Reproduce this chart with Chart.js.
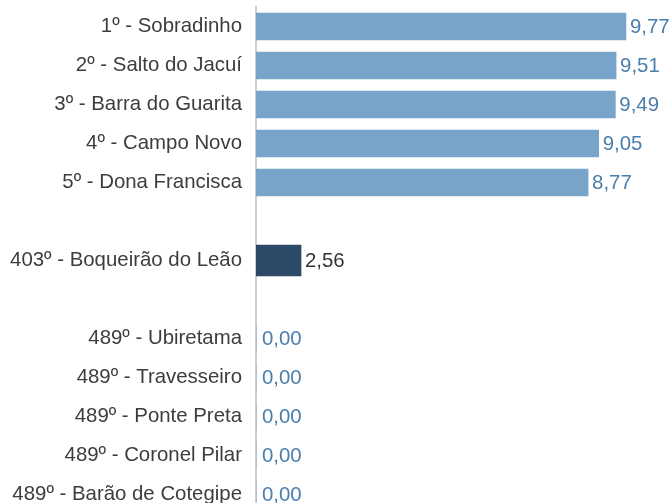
<!DOCTYPE html>
<html>
<head>
<meta charset="utf-8">
<script src="https://cdn.jsdelivr.net/npm/chart.js@4/dist/chart.umd.min.js"></script>
<style>
  html, body { margin: 0; padding: 0; background: #ffffff; overflow: hidden; }
  #wrap { position: relative; width: 671px; height: 516px; }
</style>
</head>
<body>
<div id="wrap"><canvas id="chart"></canvas></div>
<script>
// Ranking: top five municipalities
const topNames = ['1º - Sobradinho', '2º - Salto do Jacuí', '3º - Barra do Guarita', '4º - Campo Novo', '5º - Dona Francisca'];
const topValues = [9.77, 9.51, 9.49, 9.05, 8.77];

// Highlighted municipality
const focusNames = ['403º - Boqueirão do Leão'];
const focusValues = [2.56];

// Bottom of the ranking
const bottomNames = ['489º - Ubiretama', '489º - Travesseiro', '489º - Ponte Preta', '489º - Coronel Pilar', '489º - Barão de Cotegipe'];
const bottomValues = [0.00, 0.00, 0.00, 0.00, 0.00];

// Category axis with empty rows separating the three groups
const labels = [...topNames, '', ...focusNames, '', ...bottomNames];
const nulls = n => Array(n).fill(null);
const rankData = [...topValues, null, ...nulls(focusNames.length), null, ...bottomValues];
const focusData = [...nulls(topNames.length), null, ...focusValues, null, ...nulls(bottomNames.length)];

const fmt = v => v.toFixed(2).replace('.', ',');
const FONT = '"Liberation Sans", Arial, sans-serif';
const FONT_SIZE = 20.4;

// Writes each bar's value just past its end
const valueLabels = {
  id: 'valueLabels',
  afterDatasetsDraw(chart) {
    const ctx = chart.ctx;
    ctx.save();
    ctx.font = FONT_SIZE + 'px ' + FONT;
    ctx.textBaseline = 'middle';
    ctx.textAlign = 'left';
    chart.data.datasets.forEach((ds, i) => {
      const meta = chart.getDatasetMeta(i);
      meta.data.forEach((bar, j) => {
        const v = ds.data[j];
        if (v === null || v === undefined) return;
        ctx.fillStyle = ds.labelColor;
        const gap = v === 0 ? 6 : 4;
        ctx.fillText(fmt(v), bar.x + gap, bar.y + 1);
      });
    });
    ctx.restore();
  }
};

new Chart(document.getElementById('chart'), {
  type: 'bar',
  data: {
    labels: labels,
    datasets: [
      {
        data: rankData,
        backgroundColor: '#77a4c8',
        barThickness: 27,
        grouped: false,
        xAxisID: 'x',
        labelColor: '#4a7eab'
      },
      {
        data: focusData,
        backgroundColor: '#2c4a68',
        barThickness: 31,
        grouped: false,
        xAxisID: 'x2',
        labelColor: '#333333'
      }
    ]
  },
  options: {
    indexAxis: 'y',
    responsive: true,
    maintainAspectRatio: false,
    animation: false,
    layout: { padding: { top: 7, bottom: 2, left: 0, right: 0 } },
    plugins: {
      legend: { display: false },
      tooltip: { enabled: false }
    },
    scales: {
      x: { display: false, min: 0, max: 10.96 },
      x2: { display: false, min: 0, max: 23.6 },
      y: {
        offset: true,
        grid: { display: false, drawTicks: false },
        border: { display: true, color: '#cfcfcf', width: 2 },
        ticks: {
          padding: 14,
          color: '#3d3d3d',
          autoSkip: false,
          font: { family: FONT, size: FONT_SIZE }
        },
        afterFit(scale) {
          scale.width = 256;
          scale.paddingTop = 0;
          scale.paddingBottom = 0;
        }
      }
    }
  },
  plugins: [valueLabels]
});
</script>
</body>
</html>
